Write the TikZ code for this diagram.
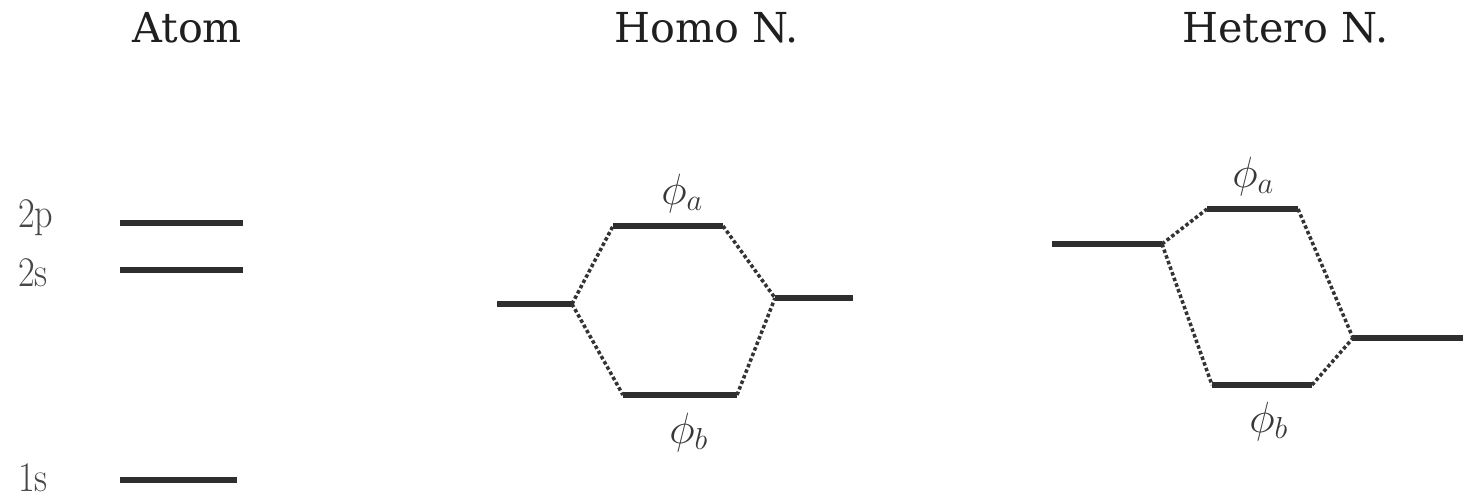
\documentclass[tikz,border=0pt]{standalone}
\usepackage{fontspec}
\newfontfamily\titlefont{DejaVu Serif}
\usetikzlibrary{positioning}
\begin{document}
\begin{tikzpicture}[x=0.02cm,y=-0.02cm,
  level/.style={line width=3.6pt,draw=black!82},
  link/.style={line width=2pt,dash pattern=on 2pt off 1.4pt,draw=black!80},
  title/.style={font=\titlefont\fontsize{23.5}{28}\selectfont,text=black!88,
    anchor=base west,inner sep=0pt},
  orb/.style={font=\fontsize{23}{27}\selectfont,text=black!78,
    anchor=base west,inner sep=0pt},
  shell/.style={font=\fontsize{24}{28}\selectfont,text=black!72,xscale=0.86,
    anchor=base west,inner sep=0pt}]
  \useasboundingbox (0,0) rectangle (1463,500);
  % column titles
  \node[title] (atom)   at (132,43)  {Atom};
  \node[title] (homo)   at (614,43)  {Homo N.};
  \node[title] (hetero) at (1182,43) {Hetero N.};
  % atomic shells
  \foreach \n/\y/\r/\b in {2p/223/243/227,2s/270/243/286,1s/480/237/491}
    {\coordinate (a\n l) at (120,\y);
     \coordinate (a\n r) at (\r,\y);
     \draw[level] (a\n l)--(a\n r);
     \node[shell] (s\n) at (18,\b){\n};}
  % homonuclear molecule
  \coordinate (hol1) at (497,304);  \coordinate (hol2) at (572,304);
  \coordinate (hor1) at (775,298);  \coordinate (hor2) at (853,298);
  \coordinate (hoa1) at (613,226);  \coordinate (hoa2) at (723,226);
  \coordinate (hob1) at (623,395);  \coordinate (hob2) at (737,395);
  \foreach \p in {hol,hor,hoa,hob}
    {\draw[level] (\p1)--(\p2);}
  \draw[link] (hol2)--(hoa1);
  \draw[link] (hol2)--(hob1);
  \draw[link] (hoa2)--(hor1);
  \draw[link] (hob2)--(hor1);
  \node[orb] (hophia) at (661,204) {$\phi_a$};
  \node[orb] (hophib) at (669,443) {$\phi_b$};
  % heteronuclear molecule
  \coordinate (hel1) at (1052,244); \coordinate (hel2) at (1162,244);
  \coordinate (her1) at (1353,338); \coordinate (her2) at (1463,338);
  \coordinate (hea1) at (1207,209); \coordinate (hea2) at (1298,209);
  \coordinate (heb1) at (1212,385); \coordinate (heb2) at (1312,385);
  \foreach \p in {hel,her,hea,heb}
    {\draw[level] (\p1)--(\p2);}
  \draw[link] (hel2)--(hea1);
  \draw[link] (hel2)--(heb1);
  \draw[link] (hea2)--(her1);
  \draw[link] (heb2)--(her1);
  \node[orb] (hephia) at (1232,187) {$\phi_a$};
  \node[orb] (hephib) at (1249,432) {$\phi_b$};
\end{tikzpicture}
\end{document}
